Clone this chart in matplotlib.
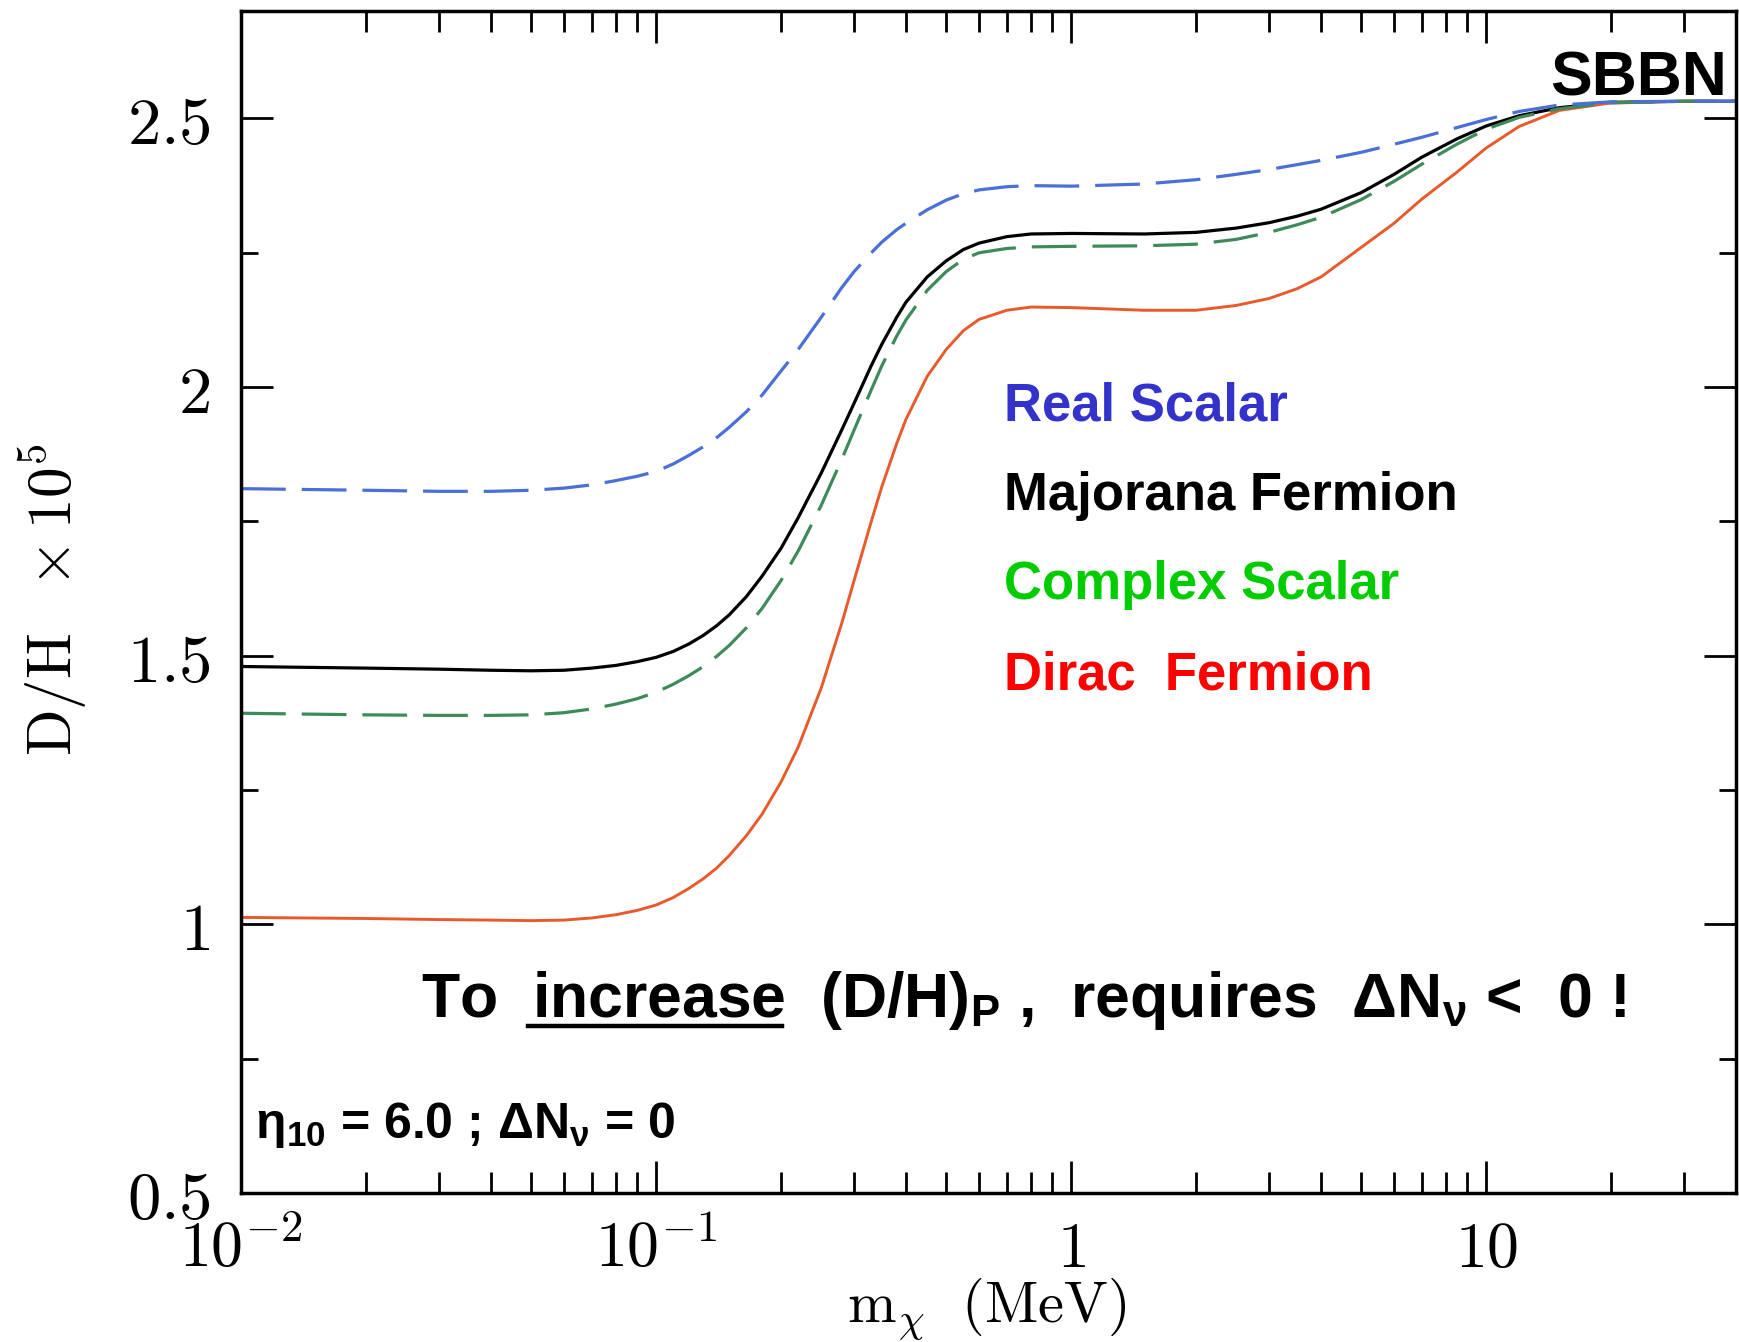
import matplotlib
matplotlib.use("Agg")
import matplotlib.pyplot as plt
from matplotlib.lines import Line2D
from matplotlib.ticker import FixedLocator, FixedFormatter, LogLocator, NullFormatter, MultipleLocator

plt.rcParams['mathtext.fontset'] = 'cm'
plt.rcParams['mathtext.default'] = 'regular'

# D/H x 10^5 versus WIMP mass (MeV)
mass = [0.01, 0.02, 0.03, 0.04, 0.05, 0.06, 0.07, 0.08, 0.09, 0.1, 0.11, 0.12, 0.13, 0.14,
        0.15, 0.165, 0.18, 0.2, 0.22, 0.25, 0.28, 0.3, 0.33, 0.35, 0.38, 0.4, 0.45, 0.5,
        0.55, 0.6, 0.7, 0.8, 1, 1.5, 2, 2.5, 3, 3.5, 4, 5, 6, 7, 8.5, 10, 12, 15, 20, 30, 40]

dh_real_scalar = [1.811, 1.808, 1.806, 1.806, 1.808, 1.812, 1.818, 1.826, 1.834, 1.843, 1.857,
                  1.873, 1.889, 1.906, 1.925, 1.954, 1.985, 2.03, 2.07, 2.13, 2.185, 2.215,
                  2.25, 2.27, 2.293, 2.305, 2.33, 2.348, 2.36, 2.367, 2.373, 2.375, 2.374,
                  2.378, 2.386, 2.396, 2.405, 2.414, 2.422, 2.437, 2.452, 2.465, 2.483, 2.498,
                  2.513, 2.525, 2.531, 2.532, 2.532]
dh_majorana = [1.480, 1.477, 1.475, 1.473, 1.472, 1.473, 1.477, 1.482, 1.489, 1.497, 1.508,
               1.522, 1.538, 1.556, 1.576, 1.61, 1.648, 1.70, 1.757, 1.84, 1.92, 1.97, 2.04,
               2.08, 2.13, 2.158, 2.205, 2.235, 2.256, 2.268, 2.28, 2.285, 2.286, 2.285,
               2.288, 2.296, 2.306, 2.318, 2.331, 2.362, 2.396, 2.428, 2.462, 2.486, 2.505,
               2.52, 2.53, 2.532, 2.532]
dh_complex_scalar = [1.393, 1.390, 1.389, 1.389, 1.390, 1.394, 1.401, 1.41, 1.42, 1.432, 1.447,
                     1.463, 1.48, 1.499, 1.519, 1.552, 1.588, 1.64, 1.695, 1.78, 1.865, 1.92,
                     1.995, 2.04, 2.095, 2.125, 2.18, 2.215, 2.238, 2.25, 2.258, 2.261, 2.262,
                     2.263, 2.266, 2.275, 2.288, 2.302, 2.316, 2.349, 2.383, 2.415, 2.452,
                     2.48, 2.502, 2.518, 2.529, 2.532, 2.532]
dh_dirac = [1.013, 1.011, 1.009, 1.008, 1.007, 1.008, 1.012, 1.018, 1.026, 1.036, 1.05, 1.067,
            1.085, 1.105, 1.128, 1.165, 1.205, 1.265, 1.33, 1.44, 1.56, 1.64, 1.75, 1.815,
            1.895, 1.94, 2.02, 2.07, 2.105, 2.126, 2.143, 2.149, 2.148, 2.143, 2.143, 2.152,
            2.165, 2.183, 2.205, 2.26, 2.305, 2.35, 2.40, 2.445, 2.485, 2.515, 2.529, 2.532,
            2.532]

x_ticks = [0.01, 0.1, 1, 10]
x_ticklabels = [r'$\mathrm{10^{-2}}$', r'$\mathrm{10^{-1}}$', r'$\mathrm{1}$', r'$\mathrm{10}$']
y_ticks = [0.5, 1, 1.5, 2, 2.5]
y_ticklabels = [r'$\mathrm{0.5}$', r'$\mathrm{1}$', r'$\mathrm{1.5}$', r'$\mathrm{2}$', r'$\mathrm{2.5}$']

labels = ['Real Scalar', 'Majorana Fermion', 'Complex Scalar', 'Dirac  Fermion']
label_colors = ['#3333cc', '#000000', '#00cc00', '#ff0000']
label_y = [1.937, 1.772, 1.605, 1.438]

fig = plt.figure(figsize=(17.39, 13.42), dpi=100)
ax = fig.add_axes([0.1386, 0.111, 0.8597, 0.8808])

ax.plot(mass, dh_majorana, color='black', lw=2.3)
ax.plot(mass, dh_dirac, color='#e85a2c', lw=2.1)
ax.plot(mass, dh_complex_scalar, color='#3f8a5a', lw=2.3, ls=(0, (14, 5)))
ax.plot(mass, dh_real_scalar, color='#4a6fd6', lw=2.3, ls=(0, (14, 5)))

ax.set_xscale('log')
ax.set_xlim(0.01, 40)
ax.set_ylim(0.5, 2.7)

ax.xaxis.set_major_locator(FixedLocator(x_ticks))
ax.xaxis.set_major_formatter(FixedFormatter(x_ticklabels))
ax.xaxis.set_minor_locator(LogLocator(base=10, subs=range(2, 10)))
ax.xaxis.set_minor_formatter(NullFormatter())
ax.yaxis.set_major_locator(FixedLocator(y_ticks))
ax.yaxis.set_major_formatter(FixedFormatter(y_ticklabels))
ax.yaxis.set_minor_locator(MultipleLocator(0.25))

for s in ax.spines.values():
    s.set_linewidth(2.5)
ax.tick_params(which='both', direction='in', top=True, right=True, width=2.0)
ax.tick_params(axis='x', which='major', length=23, labelsize=46, pad=18)
ax.tick_params(axis='x', which='minor', length=15)
ax.tick_params(axis='y', which='major', length=23, labelsize=48, pad=22)
ax.tick_params(axis='y', which='minor', length=12)

fig.text(52 / 1739, 1 - 600 / 1342, r'$\mathrm{D/H\ \ \times 10^5}$', rotation=90,
         ha='center', va='center', fontsize=44)
fig.text(987 / 1739, 1 - 1322 / 1342, r'$\mathrm{m_{\chi}\ \ (MeV)}$',
         ha='center', va='baseline', fontsize=42)

bold = dict(family='Liberation Sans', weight='bold')

for lab, col, yy in zip(labels, label_colors, label_y):
    ax.text(0.69, yy, lab, color=col, fontsize=38, va='baseline', ha='left', **bold)

ax.text(38.1, 2.543, 'SBBN', fontsize=45, ha='right', va='baseline', **bold)
ax.text(0.01083, 0.603, r'η$_{10}$ = 6.0 ; ΔN$_{\nu}$ = 0', fontsize=36,
        ha='left', va='baseline', **bold)

# statement with the underlined word
x0, y0 = 0.0272, 0.828
kw = dict(fontsize=45, ha='left', va='baseline', **bold)
ax.text(x0, y0, r'To  increase  (D/H)$_{P}$ ,  requires  ΔN$_{\nu}$ <  0 !', **kw)
fig.canvas.draw()
renderer = fig.canvas.get_renderer()
pre = ax.text(x0, y0, 'To  increase', **kw)
word = ax.text(x0, y0, 'increase', **kw)
bb_pre = pre.get_window_extent(renderer)
bb_word = word.get_window_extent(renderer)
pre.remove()
word.remove()
base = ax.transData.transform((x0, y0))[1]
uy = (base - 9) / fig.bbox.height
fig.add_artist(Line2D([(bb_pre.x1 - bb_word.width) / fig.bbox.width, bb_pre.x1 / fig.bbox.width],
                      [uy, uy], color='black', lw=3.2))

fig.savefig('out.png', dpi=100)
